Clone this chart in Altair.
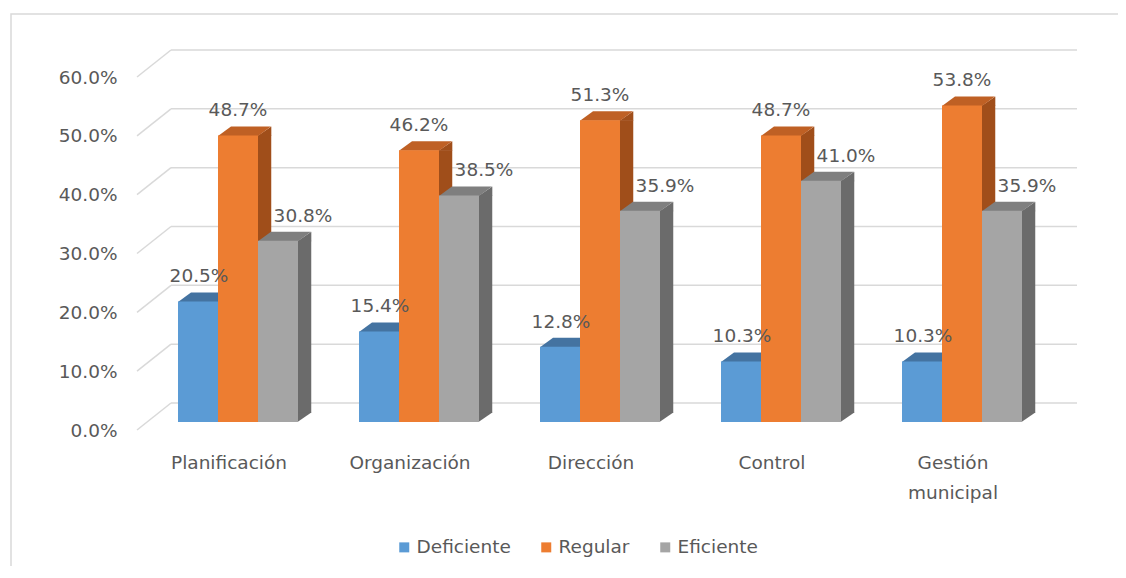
import altair as alt
import pandas as pd

categorias = ["Planificación", "Organización", "Dirección", "Control", "Gestión municipal"]
series = ["Deficiente", "Regular", "Eficiente"]
deficiente = [0.205, 0.154, 0.128, 0.103, 0.103]
regular = [0.487, 0.462, 0.513, 0.487, 0.538]
eficiente = [0.308, 0.385, 0.359, 0.410, 0.359]
ticks = [0.0, 0.1, 0.2, 0.3, 0.4, 0.5, 0.6]

rows = []
for s, vals in zip(series, [deficiente, regular, eficiente]):
    for c, v in zip(categorias, vals):
        rows.append({"cat": c, "serie": s, "valor": v})
df = pd.DataFrame(rows)
df_ticks = pd.DataFrame({"tick": ticks})
df_one = pd.DataFrame({"k": [0]})

W, H = 926, 353
FONT = "DejaVu Sans"
FS = 18.5
TXT = "#595959"
GRID = "#d9d9d9"

front = {"Deficiente": "#5B9BD5", "Regular": "#ED7D31", "Eficiente": "#A5A5A5"}
topc = {"Deficiente": "#4473A1", "Regular": "#BF6024", "Eficiente": "#7F7F7F"}
sidec = {"Deficiente": "#3F6C98", "Regular": "#A04E1A", "Eficiente": "#6B6B6B"}
offs = {"Deficiente": -40, "Regular": 0, "Eficiente": 40}
label_dx = {"Deficiente": 1, "Regular": 0, "Eficiente": 25}

xscale = alt.Scale(domain=categorias, paddingInner=0, paddingOuter=0.058)
yscale = alt.Scale(domain=[0, 0.6], nice=False, zero=True)

x_axis = alt.Axis(title=None, labelAngle=0, ticks=False, domain=False, grid=False,
                  labelFont=FONT, labelFontSize=FS, labelColor=TXT, labelPadding=31,
                  labelOffset=-9, labelLineHeight=30,
                  labelExpr="datum.label == 'Gestión municipal' ? ['Gestión', 'municipal'] : datum.label")
y_axis = alt.Axis(title=None, values=ticks, format=".1%", ticks=False, domain=False, grid=False,
                  labelFont=FONT, labelFontSize=FS, labelColor=TXT, labelPadding=20,
                  labelOffset=8)

def X():
    return alt.X("cat:N", scale=xscale, sort=categorias, axis=x_axis)

def Y(field="valor:Q"):
    return alt.Y(field, scale=yscale, axis=y_axis)

layers = []

# chart frame
layers.append(alt.Chart(df_one).mark_rect(fill=None, stroke="#d9d9d9", strokeWidth=1.5).encode(
    x=alt.value(-126), x2=alt.value(2000), y=alt.value(-55), y2=alt.value(2000)))

# diagonal side-wall gridlines
layers.append(alt.Chart(df_ticks).mark_rule(color=GRID, strokeWidth=1.5, yOffset=8, y2Offset=-19).encode(
    x=alt.value(0), x2=alt.value(34), y=Y("tick:Q"), y2="tick:Q"))
# back-wall gridlines
layers.append(alt.Chart(df_ticks).mark_rule(color=GRID, strokeWidth=1.5, yOffset=-19).encode(
    x=alt.value(34), x2=alt.value(940), y=Y("tick:Q")))

color_enc = alt.Color("serie:N", scale=alt.Scale(domain=series, range=[front[s] for s in series]),
                      legend=alt.Legend(title=None, orient="none", legendX=258, legendY=469,
                                        direction="horizontal", symbolType="square", symbolSize=100,
                                        symbolStrokeWidth=0, labelFont=FONT, labelFontSize=FS,
                                        labelColor=TXT, labelOffset=3, columnPadding=26, padding=0))

for s in series:
    base = alt.Chart(df).transform_filter(alt.datum.serie == s)
    o = offs[s]
    # side face rectangle
    layers.append(base.mark_bar(width=13.5, xOffset=o + 26.5, y2Offset=-9, color=sidec[s], strokeWidth=0).encode(
        x=X(), y=Y(), y2=alt.datum(0)))
    # side face top triangle
    layers.append(base.mark_point(shape="M19.5,0.5L33.3,-9L33.3,0.5Z", size=4, filled=True, opacity=1,
                                  strokeWidth=0, color=sidec[s], xOffset=o).encode(x=X(), y=Y()))
    # side face bottom triangle
    layers.append(base.mark_point(shape="M19.5,-9.5L19.5,0L33.3,-9.5Z", size=4, filled=True, opacity=1,
                                  strokeWidth=0, color=sidec[s], xOffset=o).encode(x=X(), y=alt.datum(0)))
    # top face
    layers.append(base.mark_point(shape="M-20,0.5L20,0.5L33,-9L-7,-9Z", size=4, filled=True, opacity=1,
                                  strokeWidth=0, color=topc[s], xOffset=o).encode(x=X(), y=Y()))
    # front face
    layers.append(base.mark_bar(width=40, xOffset=o, strokeWidth=0).encode(
        x=X(), y=Y(), y2=alt.datum(0), color=color_enc))

for s in series:
    base = alt.Chart(df).transform_filter(alt.datum.serie == s)
    layers.append(base.mark_text(font=FONT, fontSize=FS, color=TXT, baseline="middle", align="center",
                                 dx=offs[s] + label_dx[s], dy=-25).encode(
        x=X(), y=Y(), text=alt.Text("valor:Q", format=".1%")))

chart = alt.layer(*layers).properties(
    width=W, height=H,
    background="white",
    autosize=alt.AutoSizeParams(type="none"),
    padding={"left": 129, "top": 61, "right": 1110 - 129 - W, "bottom": 558 - 61 - H},
).configure_view(stroke=None)

chart.save("out.html", embed_options={"renderer": "svg", "actions": False})
